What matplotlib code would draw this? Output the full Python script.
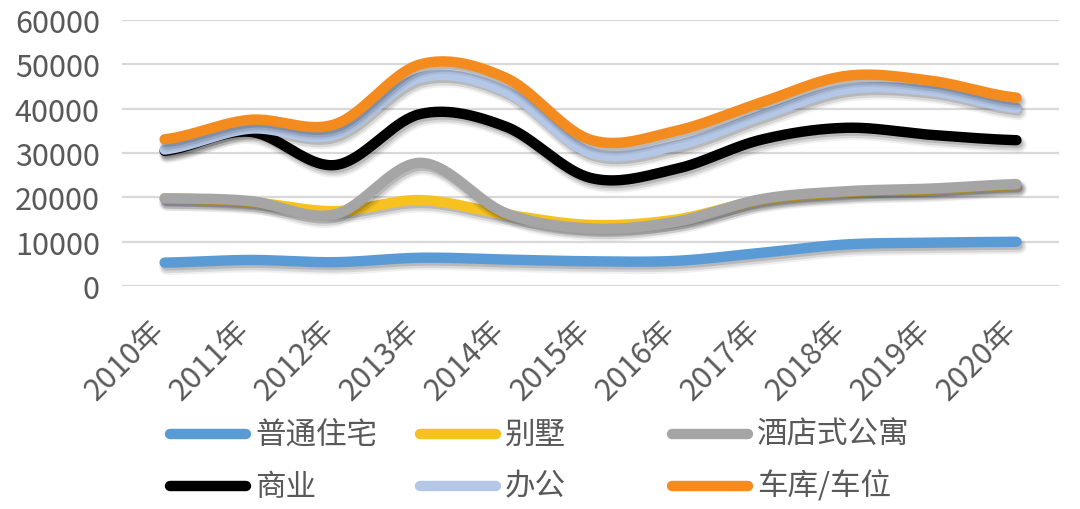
import numpy as np
import matplotlib
matplotlib.use("Agg")
import matplotlib.pyplot as plt
import matplotlib.patheffects as pe
from matplotlib.lines import Line2D

plt.rcParams['font.family'] = ['Noto Sans CJK SC', 'DejaVu Sans']

years = ['2010年', '2011年', '2012年', '2013年', '2014年', '2015年',
         '2016年', '2017年', '2018年', '2019年', '2020年']
series_names = ['普通住宅', '别墅', '酒店式公寓', '商业', '办公', '车库/车位']
putong = [5300, 5900, 5400, 6400, 6000, 5600, 5700, 7500, 9400, 9800, 10000]
bieshu = [19800, 19000, 16900, 19400, 16200, 13800, 15000, 19400, 21200, 21800, 22800]
jiudian = [19800, 19200, 16200, 27800, 16500, 13000, 14500, 19600, 21400, 22000, 23000]
shangye = [30500, 34800, 27300, 38800, 36000, 24400, 26400, 33000, 35700, 34100, 32900]
bangong = [30800, 35500, 34200, 47000, 44000, 30100, 31700, 38400, 44400, 44000, 40200]
cheku = [33100, 37500, 36500, 50000, 47000, 33000, 35000, 41400, 47400, 46300, 42500]
yticks = [0, 10000, 20000, 30000, 40000, 50000, 60000]

all_series = [putong, bieshu, jiudian, shangye, bangong, cheku]
colors = ['#5B9BD5', '#F7C21F', '#A5A5A5', '#000000', '#B4C7E7', '#F38B1E']
text_color = '#595959'


def smooth(xs, ys, n=40):
    xs = np.asarray(xs, float)
    ys = np.asarray(ys, float)
    px = np.concatenate([[2 * xs[0] - xs[1]], xs, [2 * xs[-1] - xs[-2]]])
    py = np.concatenate([[ys[0]], ys, [ys[-1]]])
    ox, oy = [], []
    t = np.linspace(0, 1, n)
    for i in range(1, len(xs)):
        p0 = np.array([px[i], py[i]])
        p3 = np.array([px[i + 1], py[i + 1]])
        p1 = p0 + (np.array([px[i + 1], py[i + 1]]) - np.array([px[i - 1], py[i - 1]])) / 6
        p2 = p3 - (np.array([px[i + 2], py[i + 2]]) - p0) / 6
        b = ((1 - t) ** 3)[:, None] * p0 + (3 * (1 - t) ** 2 * t)[:, None] * p1 + \
            (3 * (1 - t) * t ** 2)[:, None] * p2 + (t ** 3)[:, None] * p3
        ox.extend(b[:, 0]); oy.extend(b[:, 1])
    return np.array(ox), np.array(oy)


fig = plt.figure(figsize=(10.8, 5.1), dpi=100)
ax = fig.add_axes([0.113, 0.437, 0.8676, 0.5218])

x = np.arange(len(years))
lw = 7.5
for vals, c, name in zip(all_series, colors, series_names):
    sx, sy = smooth(x, vals)
    ax.plot(sx, sy, color=c, lw=lw, solid_capstyle='round', label=name,
            path_effects=[
                pe.SimpleLineShadow(offset=(1.8, -3.2), shadow_color='black', alpha=0.06, linewidth=lw + 4),
                pe.SimpleLineShadow(offset=(1.6, -3.0), shadow_color='black', alpha=0.10, linewidth=lw + 1.5),
                pe.SimpleLineShadow(offset=(1.3, -2.5), shadow_color='black', alpha=0.14, linewidth=lw - 1),
                pe.Normal()])

ax.set_xlim(-0.5, len(years) - 0.5)
ax.set_ylim(0, 60000)
ax.set_yticks(yticks)
ax.set_yticklabels([str(v) for v in yticks])
ax.set_xticks(x)
ax.set_xticklabels(years, rotation=45, ha='right', va='top')
ax.tick_params(axis='y', length=0, pad=16, labelsize=22, labelcolor=text_color)
ax.tick_params(axis='x', length=0, pad=20, labelsize=22, labelcolor=text_color)
for lab in ax.get_xticklabels():
    lab.set_x(lab.get_position()[0])
import matplotlib.transforms as mtrans
offset = mtrans.ScaledTranslation(6 / 100, 0, fig.dpi_scale_trans)
for lab in ax.get_xticklabels():
    lab.set_transform(lab.get_transform() + offset)
ax.grid(axis='y', color='#D9D9D9', lw=1.6)
ax.set_axisbelow(True)
for s in ax.spines.values():
    s.set_visible(False)

# legend (manual, equal column widths as in the reference)
col_x = [170, 420, 672]
row_y = [435, 487]
W, H = 1080.0, 510.0
for i, (name, c) in enumerate(zip(series_names, colors)):
    r, k = divmod(i, 3)
    x0 = col_x[k]
    yy = 1 - row_y[r] / H
    fig.add_artist(Line2D([x0 / W, (x0 + 76) / W], [yy, yy], transform=fig.transFigure,
                          color=c, lw=lw, solid_capstyle='round'))
    fig.text((x0 + 85) / W, yy, name, fontsize=22, color=text_color, va='center', ha='left')

fig.savefig('out.png', dpi=100)
